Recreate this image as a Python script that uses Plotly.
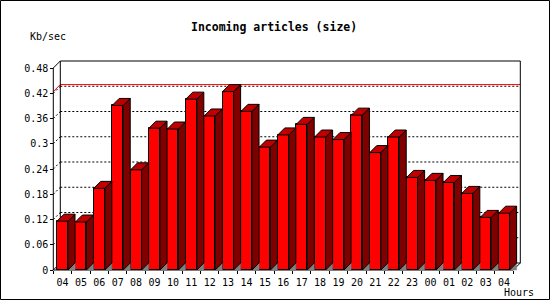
import plotly.graph_objects as go

# ---- data ----
hours = ["04", "05", "06", "07", "08", "09", "10", "11", "12", "13", "14", "15",
         "16", "17", "18", "19", "20", "21", "22", "23", "00", "01", "02", "03", "04"]
kb_per_sec = [0.116, 0.114, 0.194, 0.391, 0.238, 0.337, 0.335, 0.406, 0.366, 0.424,
              0.377, 0.292, 0.321, 0.346, 0.316, 0.310, 0.368, 0.279, 0.316, 0.220,
              0.213, 0.208, 0.182, 0.125, 0.135]
y_ticks = [0, 0.06, 0.12, 0.18, 0.24, 0.3, 0.36, 0.42, 0.48]
y_ticktext = ["0", "0.06", "0.12", "0.18", "0.24", "0.3", "0.36", "0.42", "0.48"]
title_text = "Incoming articles (size)"
y_unit = "Kb/sec"
x_unit = "Hours"

# ---- geometry (pixel layout of the 3D frame) ----
W_FIG, H_FIG = 550, 300
L, R, T, B = 48, 526, 56, 275          # plot area pixels
X0_PX, Y0_PX = 53.3, 270.0             # front-left corner (x=-0.5, y=0)
KX = 18.4                               # px per category
KY = 202.0 / 0.48                       # px per unit value
DEPTH = 7.0                             # 3D depth in px
DX, DY = DEPTH / KX, DEPTH / KY
BW = 0.6                                # bar width (category units)
YMAX = y_ticks[-1]

n = len(hours)
xs = list(range(n))
x_left, x_right = -0.5, n - 0.5
xrange_ = [x_left - (X0_PX - L) / KX, x_left + (R - X0_PX) / KX]
yrange_ = [-(B - Y0_PX) / KY, (Y0_PX - T) / KY]
plot_w, plot_h = R - L, B - T

RED, TOP, SIDE, SHADOW = "#ff0000", "#c00000", "#800000", "#808080"
FONT = "DejaVu Sans Mono"

fig = go.Figure()

# front faces
fig.add_trace(go.Bar(x=xs, y=kb_per_sec, width=BW,
                     marker=dict(color=RED, line=dict(color="black", width=1)),
                     hoverinfo="skip", showlegend=False))

def polys(build):
    px, py = [], []
    for x, v in zip(xs, kb_per_sec):
        pts = build(x, v)
        for a, b in pts:
            px.append(a); py.append(b)
        px.append(pts[0][0]); py.append(pts[0][1])
        px.append(None); py.append(None)
    return px, py

# floor shadows
sx, sy = polys(lambda x, v: [(x + BW/2, 0), (x + BW/2 + DX, DY), (x + BW/2 + DX, 0)])
fig.add_trace(go.Scatter(x=sx, y=sy, mode="lines", fill="toself", fillcolor=SHADOW,
                         line=dict(color=SHADOW, width=0.5), hoverinfo="skip", showlegend=False))
# side faces
sx, sy = polys(lambda x, v: [(x + BW/2, 0), (x + BW/2 + DX, DY),
                             (x + BW/2 + DX, v + DY), (x + BW/2, v)])
fig.add_trace(go.Scatter(x=sx, y=sy, mode="lines", fill="toself", fillcolor=SIDE,
                         line=dict(color="black", width=1), hoverinfo="skip", showlegend=False))
# top faces
sx, sy = polys(lambda x, v: [(x - BW/2, v), (x - BW/2 + DX, v + DY),
                             (x + BW/2 + DX, v + DY), (x + BW/2, v)])
fig.add_trace(go.Scatter(x=sx, y=sy, mode="lines", fill="toself", fillcolor=TOP,
                         line=dict(color="black", width=1), hoverinfo="skip", showlegend=False))

shapes = []
def seg(x0, y0, x1, y1, color="black", dash="solid", layer="below"):
    shapes.append(dict(type="line", xref="x", yref="y", x0=x0, y0=y0, x1=x1, y1=y1,
                       line=dict(color=color, width=1, dash=dash), layer=layer))

# back-wall dotted grid lines + left wall diagonals
for t in y_ticks[1:-1]:
    seg(x_left + DX, t + DY, x_right + DX, t + DY, dash="2px,2px")
    seg(x_left, t, x_left + DX, t + DY, dash="2px,2px")

# maximum line (red)
vmax = max(kb_per_sec)
seg(x_left + DX, vmax + DY, x_right + DX, vmax + DY, color=RED)
seg(x_left, vmax, x_left + DX, vmax + DY, color=RED)

# frame
seg(x_left, 0, x_left, YMAX)                               # front y axis
seg(x_left, YMAX, x_left + DX, YMAX + DY)                  # top-left diagonal
seg(x_left + DX, YMAX + DY, x_right + DX, YMAX + DY)       # back top
seg(x_left + DX, DY, x_left + DX, YMAX + DY)               # back left
seg(x_right + DX, DY, x_right + DX, YMAX + DY)             # back right
seg(x_left, 0, x_right, 0)                                 # front floor
seg(x_left, 0, x_left + DX, DY)                            # floor left diagonal
seg(x_right, 0, x_right + DX, DY)                          # floor right diagonal
seg(x_left + DX, DY, x_right + DX, DY)                     # back floor

# outer border of the image
shapes.append(dict(type="rect", xref="paper", yref="paper",
                   x0=(-L + 0.5) / plot_w, x1=(W_FIG - L - 0.5) / plot_w,
                   y0=(-(H_FIG - B) + 0.5) / plot_h, y1=(H_FIG - (H_FIG - B) - 0.5) / plot_h,
                   line=dict(color="black", width=1), layer="above"))

annotations = [
    dict(text="<b>" + title_text + "</b>", xref="paper", yref="paper",
         x=(273.7 - L) / plot_w, y=(B - 27) / plot_h, xanchor="center", yanchor="middle",
         showarrow=False, font=dict(family=FONT, size=11.5, color="black")),
    dict(text=y_unit, xref="paper", yref="paper",
         x=(47.5 - L) / plot_w, y=(B - 37) / plot_h, xanchor="center", yanchor="middle",
         showarrow=False, font=dict(family=FONT, size=10, color="black")),
    dict(text=x_unit, xref="paper", yref="paper",
         x=(519 - L) / plot_w, y=(B - 292) / plot_h, xanchor="center", yanchor="middle",
         showarrow=False, font=dict(family=FONT, size=10, color="black")),
]

axis_pos_x = (X0_PX - L) / plot_w
axis_pos_y = (B - Y0_PX) / plot_h

fig.update_layout(
    width=W_FIG, height=H_FIG,
    margin=dict(l=L, r=W_FIG - R, t=T, b=H_FIG - B, pad=0),
    paper_bgcolor="white", plot_bgcolor="white",
    showlegend=False, bargap=0,
    shapes=shapes, annotations=annotations,
    xaxis=dict(range=xrange_, tickmode="array", tickvals=xs, ticktext=hours,
               ticks="outside", ticklen=3, tickcolor="rgba(0,0,0,0)",
               showgrid=False, zeroline=False, showline=False,
               anchor="free", position=axis_pos_y, automargin=False,
               tickfont=dict(family=FONT, size=10, color="black")),
    xaxis2=dict(range=xrange_, overlaying="x", tickmode="array",
                tickvals=[i - 0.5 for i in range(n + 1)], showticklabels=False,
                ticks="outside", ticklen=3, tickcolor="black", tickwidth=1,
                showgrid=False, zeroline=False, showline=False,
                anchor="free", position=axis_pos_y, automargin=False, side="bottom"),
    yaxis=dict(range=yrange_, tickmode="array", tickvals=y_ticks, ticktext=y_ticktext,
               ticks="outside", ticklen=3, tickcolor="black", tickwidth=1,
               showgrid=False, zeroline=False, showline=False,
               anchor="free", position=axis_pos_x, automargin=False,
               tickfont=dict(family=FONT, size=10, color="black")),
)
# dummy trace so xaxis2 is drawn
fig.add_trace(go.Scatter(x=[None], y=[None], xaxis="x2", yaxis="y", showlegend=False,
                         hoverinfo="skip"))

fig.write_html("out.html")
